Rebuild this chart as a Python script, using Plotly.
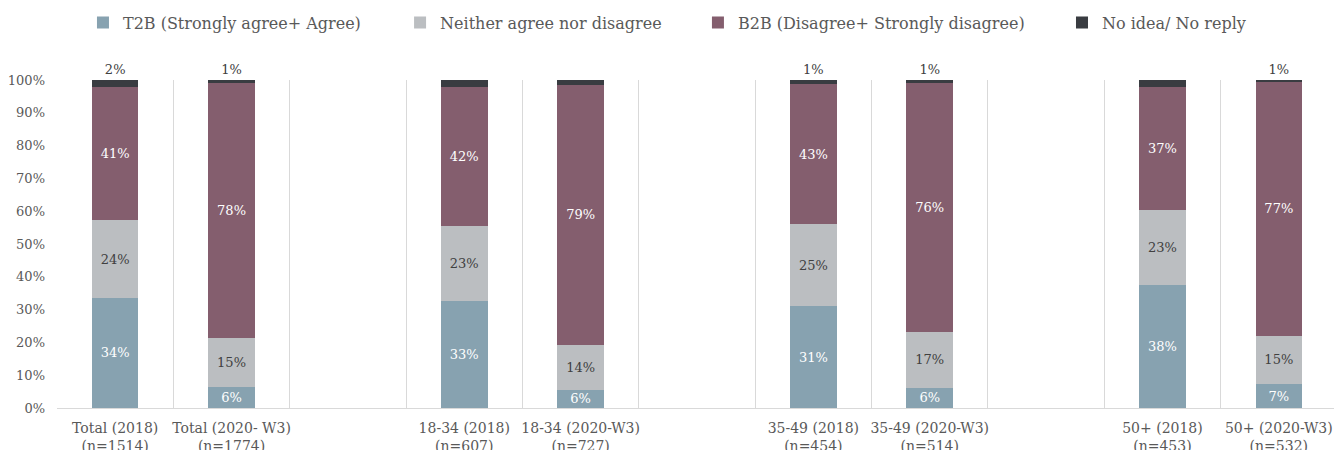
import plotly.graph_objects as go

categories = [
    "Total (2018)<br>(n=1514)", "Total (2020- W3)<br>(n=1774)", " ",
    "18-34 (2018)<br>(n=607)", "18-34 (2020-W3)<br>(n=727)", "  ",
    "35-49 (2018)<br>(n=454)", "35-49 (2020-W3)<br>(n=514)", "   ",
    "50+ (2018)<br>(n=453)", "50+ (2020-W3)<br>(n=532)",
]

# percentages (None = spacer column)
t2b = [33.6, 6.3, None, 32.6, 5.6, None, 31.0, 6.2, None, 37.6, 7.3]
neither = [23.6, 14.9, None, 22.8, 13.6, None, 25.0, 17.1, None, 22.8, 14.7]
b2b = [40.8, 77.8, None, 42.4, 79.4, None, 42.7, 75.9, None, 37.4, 77.4]
no_idea = [2.0, 1.0, None, 2.2, 1.4, None, 1.3, 0.8, None, 2.2, 0.6]

y_ticks = list(range(0, 101, 10))
y_tick_labels = [f"{v}%" for v in y_ticks]

names = ["T2B (Strongly agree+ Agree)", "Neither agree nor disagree",
         "B2B (Disagree+ Strongly disagree)", "No idea/ No reply"]
colors = ["#87A2B0", "#BBBEC1", "#845E6E", "#393C41"]
label_colors = ["white", "#404040", "white", "#404040"]
legend_x = [0.0562, 0.2939, 0.5172, 0.7901]

FONT = "DejaVu Serif"

fig = go.Figure()
for i, vals in enumerate([t2b, neither, b2b, no_idea]):
    fig.add_trace(go.Bar(
        x=categories,
        y=vals,
        name=names[i],
        marker=dict(color=colors[i], line=dict(width=0)),
        texttemplate="%{y:.0f}%",
        textposition="outside" if i == 3 else "inside",
        insidetextanchor="middle",
        textangle=0,
        constraintext="none",
        cliponaxis=False,
        textfont=dict(family=FONT, size=13, color=label_colors[i]),
        legend="legend" if i == 0 else f"legend{i + 1}",
        showlegend=True,
        hoverinfo="skip",
    ))

legend_style = dict(
    orientation="h", xref="container", yref="container",
    y=0.967, yanchor="middle", xanchor="left",
    font=dict(family=FONT, size=16, color="#595959"),
    bgcolor="rgba(0,0,0,0)", itemwidth=30,
)
# page body has an 8px margin, so the figure is sized to fit the window
fig.update_layout(
    barmode="stack",
    bargap=0.6,
    width=1334, height=442,
    margin=dict(l=49, r=5, t=72, b=42),
    plot_bgcolor="white", paper_bgcolor="white",
    font=dict(family=FONT, size=13, color="#595959"),
    showlegend=True,
    legend=dict(x=legend_x[0], **legend_style),
    legend2=dict(x=legend_x[1], **legend_style),
    legend3=dict(x=legend_x[2], **legend_style),
    legend4=dict(x=legend_x[3], **legend_style),
    xaxis=dict(
        type="category", categoryorder="array", categoryarray=categories,
        tickson="boundaries", showgrid=True, gridcolor="#D9D9D9", gridwidth=1,
        showline=True, linecolor="#D9D9D9", ticks="", tickangle=0,
        ticklabelstandoff=7, automargin=False,
        tickfont=dict(family=FONT, size=14, color="#595959"),
    ),
    yaxis=dict(
        range=[0, 100], tickvals=y_ticks, ticktext=y_tick_labels,
        showgrid=False, zeroline=False, showline=False, automargin=False,
        ticklabelstandoff=11,
        tickfont=dict(family=FONT, size=13, color="#595959"),
    ),
)

fig.write_html("out.html")
